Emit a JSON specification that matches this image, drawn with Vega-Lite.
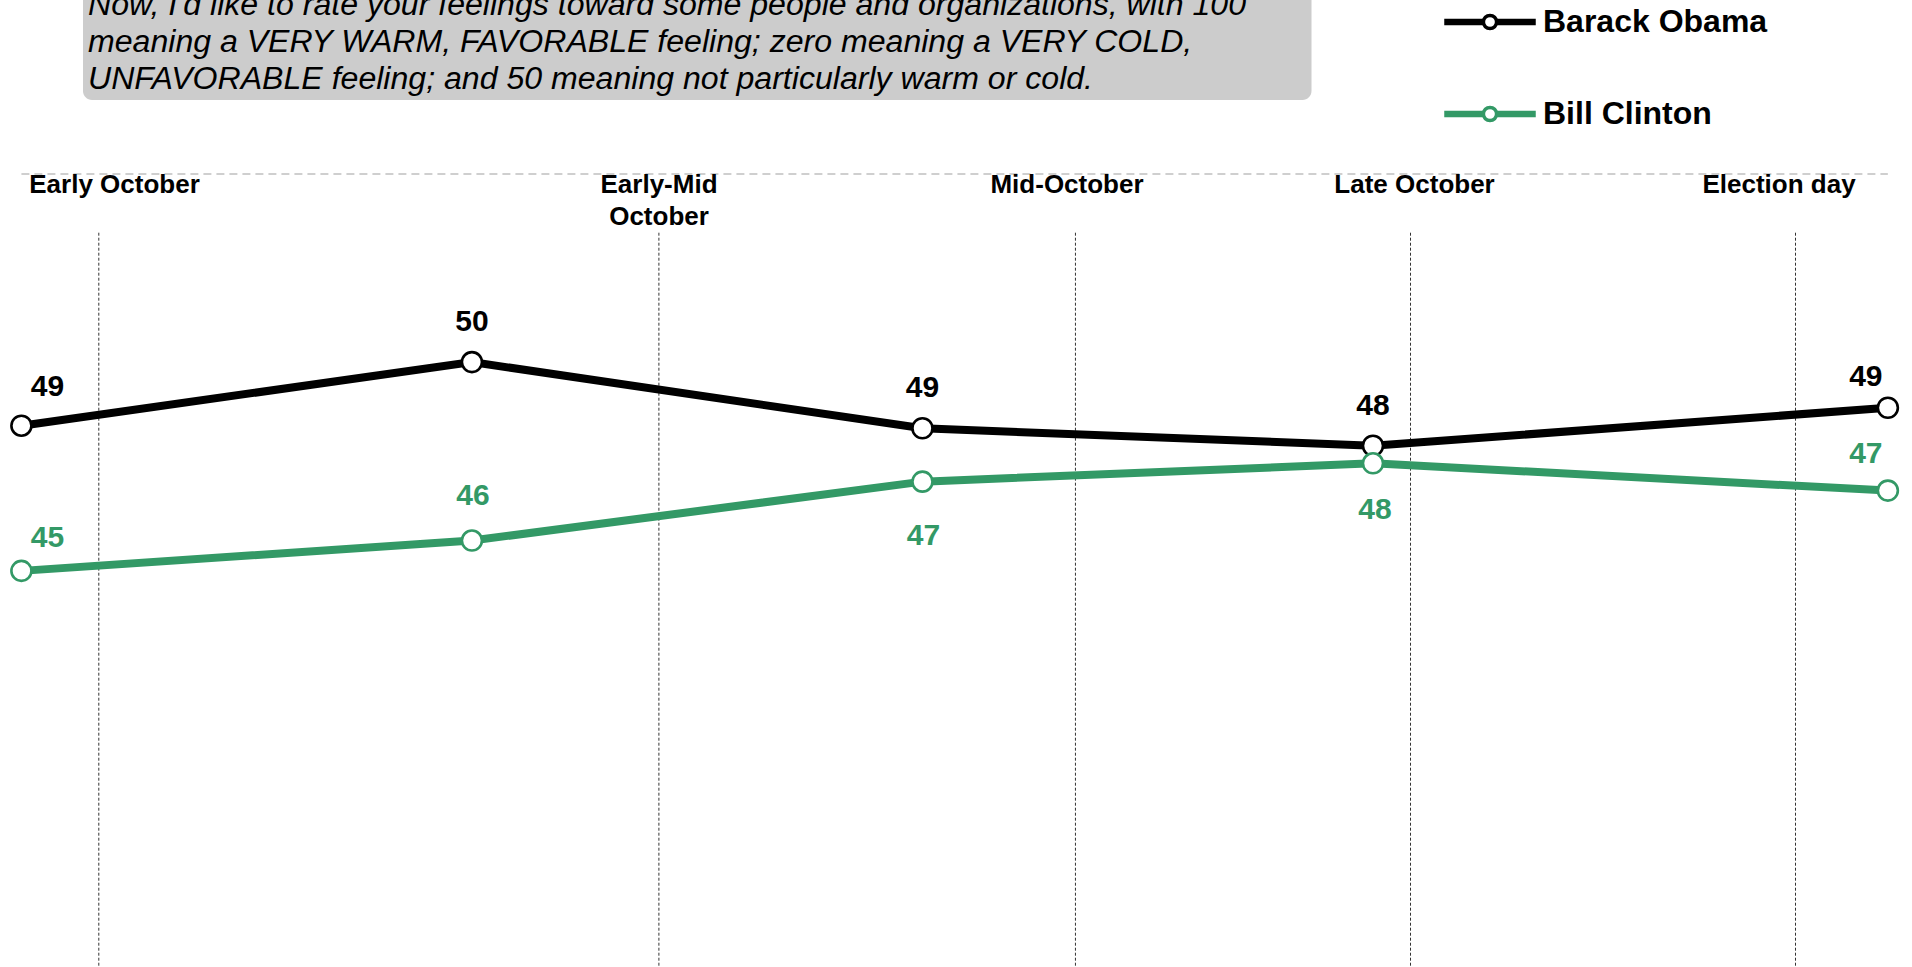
{
  "$schema": "https://vega.github.io/schema/vega-lite/v6.json",
  "width": 1912,
  "height": 967,
  "padding": 0,
  "autosize": {"type": "none"},
  "background": "white",
  "config": {"view": {"stroke": null}, "font": "Liberation Sans"},
  "datasets": {
    "ratings": [
      {"series": "Barack Obama", "day": 0, "value": 48.68},
      {"series": "Barack Obama", "day": 7, "value": 50.17},
      {"series": "Barack Obama", "day": 14, "value": 48.62},
      {"series": "Barack Obama", "day": 21, "value": 48.21},
      {"series": "Barack Obama", "day": 29, "value": 49.10},
      {"series": "Bill Clinton", "day": 0, "value": 45.28},
      {"series": "Bill Clinton", "day": 7, "value": 45.99},
      {"series": "Bill Clinton", "day": 14, "value": 47.37},
      {"series": "Bill Clinton", "day": 21, "value": 47.80},
      {"series": "Bill Clinton", "day": 29, "value": 47.16}
    ],
    "periods": [
      {"period": "Early October", "divider": 1.2026, "label_day": 1.447},
      {"period": "Early-Mid\nOctober", "divider": 9.905, "label_day": 9.907},
      {"period": "Mid-October", "divider": 16.377, "label_day": 16.246},
      {"period": "Late October", "divider": 21.583, "label_day": 21.646},
      {"period": "Election day", "divider": 27.565, "label_day": 27.309}
    ],
    "note": [
      {"text": "Now, I'd like to rate your feelings toward some people and organizations, with 100\nmeaning a VERY WARM, FAVORABLE feeling; zero meaning a VERY COLD,\nUNFAVORABLE feeling; and 50 meaning not particularly warm or cold."}
    ]
  },
  "layer": [
    {
      "data": {"name": "note"},
      "mark": {"type": "rect", "fill": "#cccccc", "cornerRadius": 9},
      "encoding": {
        "x": {"datum": 0.957, "type": "quantitative", "scale": {"domain": [-0.3325, 29.375], "nice": false, "zero": false}, "axis": null},
        "x2": {"datum": 20.045},
        "y": {"datum": 56.308, "type": "quantitative", "scale": {"domain": [36.003, 58.65], "nice": false, "zero": false}, "axis": null},
        "y2": {"datum": 59.5}
      }
    },
    {
      "data": {"name": "note"},
      "mark": {"type": "text", "align": "left", "baseline": "alphabetic", "fontSize": 32.1, "fontStyle": "italic", "color": "#000000", "lineBreak": "\n", "lineHeight": 37},
      "encoding": {
        "x": {"datum": 1.035, "type": "quantitative"},
        "y": {"datum": 58.292, "type": "quantitative"},
        "text": {"field": "text"}
      }
    },
    {
      "data": {"values": [{}]},
      "mark": {"type": "rule", "color": "#c0c0c0", "strokeWidth": 1.5, "strokeDash": [8, 5]},
      "encoding": {
        "x": {"datum": 0, "type": "quantitative"},
        "x2": {"datum": 29},
        "y": {"datum": 54.575, "type": "quantitative"}
      }
    },
    {
      "data": {"name": "periods"},
      "mark": {"type": "rule", "color": "#333333", "strokeWidth": 1, "strokeDash": [3, 2]},
      "encoding": {
        "x": {"field": "divider", "type": "quantitative"},
        "y": {"datum": 53.2, "type": "quantitative"},
        "y2": {"datum": 36.003}
      }
    },
    {
      "data": {"name": "periods"},
      "mark": {"type": "text", "align": "center", "baseline": "top", "fontSize": 26, "fontWeight": "bold", "color": "#000000", "lineBreak": "\n", "lineHeight": 32},
      "encoding": {
        "x": {"field": "label_day", "type": "quantitative"},
        "y": {"datum": 54.62, "type": "quantitative"},
        "text": {"field": "period"}
      }
    },
    {
      "data": {"name": "ratings"},
      "mark": {"type": "line", "strokeWidth": 8},
      "encoding": {
        "x": {"field": "day", "type": "quantitative"},
        "y": {"field": "value", "type": "quantitative"},
        "color": {
          "field": "series",
          "type": "nominal",
          "scale": {"domain": ["Barack Obama", "Bill Clinton"], "range": ["#000000", "#339966"]},
          "legend": {
            "orient": "none",
            "legendX": 1444,
            "legendY": -24,
            "title": null,
            "direction": "vertical",
            "padding": 0,
            "symbolType": "M-1,-0.036H-0.15V0.036H-1Z M0.15,-0.036H1V0.036H0.15Z M-0.15,0A0.15,0.15 0 1,0 0.15,0A0.15,0.15 0 1,0 -0.15,0Z",
            "symbolSize": 7744,
            "symbolStrokeWidth": 3.5,
            "symbolFillColor": "white",
            "labelFont": "Liberation Sans",
            "labelFontSize": 32,
            "labelFontWeight": "bold",
            "labelColor": "#000000",
            "labelOffset": 7,
            "labelLimit": 400,
            "rowPadding": 30,
            "encode": {"symbols": {"update": {"fill": {"value": "white"}, "strokeWidth": {"value": 3.5}, "opacity": {"value": 1}}}}
          }
        }
      }
    },
    {
      "data": {"name": "ratings"},
      "mark": {"type": "point", "shape": "circle", "fill": "white", "filled": false, "size": 400, "strokeWidth": 2.6, "opacity": 1},
      "encoding": {
        "x": {"field": "day", "type": "quantitative"},
        "y": {"field": "value", "type": "quantitative"},
        "stroke": {
          "field": "series",
          "type": "nominal",
          "scale": {"domain": ["Barack Obama", "Bill Clinton"], "range": ["#000000", "#339966"]},
          "legend": null
        }
      }
    },
    {
      "data": {"name": "ratings"},
      "transform": [{"filter": "datum.series === 'Barack Obama' && datum.day > 0 && datum.day < 29"}],
      "mark": {"type": "text", "fontSize": 30, "fontWeight": "bold", "color": "#000000", "baseline": "middle", "align": "center", "dy": -40},
      "encoding": {"x": {"field": "day", "type": "quantitative"}, "y": {"field": "value", "type": "quantitative"}, "text": {"field": "value", "type": "quantitative", "format": ".0f"}}
    },
    {
      "data": {"name": "ratings"},
      "transform": [{"filter": "datum.series === 'Barack Obama' && datum.day === 0"}],
      "mark": {"type": "text", "fontSize": 30, "fontWeight": "bold", "color": "#000000", "baseline": "middle", "align": "center", "dx": 26, "dy": -39},
      "encoding": {"x": {"field": "day", "type": "quantitative"}, "y": {"field": "value", "type": "quantitative"}, "text": {"field": "value", "type": "quantitative", "format": ".0f"}}
    },
    {
      "data": {"name": "ratings"},
      "transform": [{"filter": "datum.series === 'Barack Obama' && datum.day === 29"}],
      "mark": {"type": "text", "fontSize": 30, "fontWeight": "bold", "color": "#000000", "baseline": "middle", "align": "center", "dx": -22, "dy": -31},
      "encoding": {"x": {"field": "day", "type": "quantitative"}, "y": {"field": "value", "type": "quantitative"}, "text": {"field": "value", "type": "quantitative", "format": ".0f"}}
    },
    {
      "data": {"name": "ratings"},
      "transform": [{"filter": "datum.series === 'Bill Clinton' && datum.day === 0"}],
      "mark": {"type": "text", "fontSize": 30, "fontWeight": "bold", "color": "#339966", "baseline": "middle", "align": "center", "dx": 26, "dy": -33},
      "encoding": {"x": {"field": "day", "type": "quantitative"}, "y": {"field": "value", "type": "quantitative"}, "text": {"field": "value", "type": "quantitative", "format": ".0f"}}
    },
    {
      "data": {"name": "ratings"},
      "transform": [{"filter": "datum.series === 'Bill Clinton' && datum.day === 7"}],
      "mark": {"type": "text", "fontSize": 30, "fontWeight": "bold", "color": "#339966", "baseline": "middle", "align": "center", "dx": 1, "dy": -45},
      "encoding": {"x": {"field": "day", "type": "quantitative"}, "y": {"field": "value", "type": "quantitative"}, "text": {"field": "value", "type": "quantitative", "format": ".0f"}}
    },
    {
      "data": {"name": "ratings"},
      "transform": [{"filter": "datum.series === 'Bill Clinton' && datum.day === 14"}],
      "mark": {"type": "text", "fontSize": 30, "fontWeight": "bold", "color": "#339966", "baseline": "middle", "align": "center", "dx": 1, "dy": 54},
      "encoding": {"x": {"field": "day", "type": "quantitative"}, "y": {"field": "value", "type": "quantitative"}, "text": {"field": "value", "type": "quantitative", "format": ".0f"}}
    },
    {
      "data": {"name": "ratings"},
      "transform": [{"filter": "datum.series === 'Bill Clinton' && datum.day === 21"}],
      "mark": {"type": "text", "fontSize": 30, "fontWeight": "bold", "color": "#339966", "baseline": "middle", "align": "center", "dx": 2, "dy": 47},
      "encoding": {"x": {"field": "day", "type": "quantitative"}, "y": {"field": "value", "type": "quantitative"}, "text": {"field": "value", "type": "quantitative", "format": ".0f"}}
    },
    {
      "data": {"name": "ratings"},
      "transform": [{"filter": "datum.series === 'Bill Clinton' && datum.day === 29"}],
      "mark": {"type": "text", "fontSize": 30, "fontWeight": "bold", "color": "#339966", "baseline": "middle", "align": "center", "dx": -22, "dy": -36.5},
      "encoding": {"x": {"field": "day", "type": "quantitative"}, "y": {"field": "value", "type": "quantitative"}, "text": {"field": "value", "type": "quantitative", "format": ".0f"}}
    }
  ]
}
